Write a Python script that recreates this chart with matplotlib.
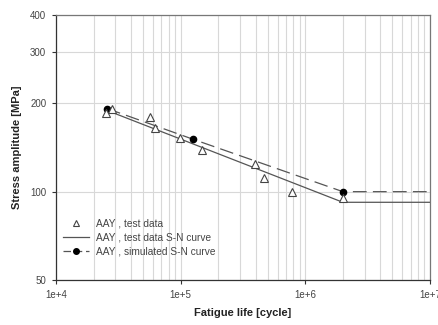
#!/usr/bin/env python3
"""S-N curve for AAY: test data vs. test and simulated S-N curves."""
import matplotlib

matplotlib.use("Agg")

import matplotlib.pyplot as plt
from matplotlib.ticker import FixedLocator, NullFormatter, LogLocator

plt.rcParams["font.family"] = ["Liberation Sans", "DejaVu Sans"]

# test data (cycles, MPa)
test_n = [25000, 28200, 56500, 62800, 98200, 148000, 396000, 467000, 777000, 2.0e6]
test_s = [185, 192, 180, 165, 152, 139, 124, 111, 99.8, 95]

# S-N curve fitted to test data
fit_n = [25000, 2.0e6, 1.0e7]
fit_s = [190, 92, 92]

# simulated S-N curve
sim_n = [25700, 125000, 2.0e6, 1.0e7]
sim_s = [192, 151, 100, 100]
sim_mark_n = sim_n[:3]
sim_mark_s = sim_s[:3]

y_ticks = [50, 100, 200, 300, 400]
x_ticks = [1e4, 1e5, 1e6, 1e7]
x_labels = ["1e+4", "1e+5", "1e+6", "1e+7"]

fig = plt.figure(figsize=(4.39, 3.25), dpi=100)
ax = fig.add_axes([0.1276, 0.1385, 0.8519, 0.8153])

grid_c = "#d8d8d8"
ax.plot(fit_n, fit_s, color="#555555", lw=0.9, zorder=3)
ax.plot(sim_n, sim_s, color="#555555", lw=0.9, dashes=(11, 5), zorder=3)
ax.plot(sim_mark_n, sim_mark_s, ls="none", marker="o", ms=4.5,
        color="black", zorder=4)
ax.plot(test_n, test_s, ls="none", marker="^", ms=5.5, mfc="white",
        mec="#444444", mew=0.8, zorder=5)

ax.set_xscale("log")
ax.set_yscale("log")
ax.set_xlim(1e4, 1e7)
ax.set_ylim(50, 400)

ax.xaxis.set_major_locator(FixedLocator(x_ticks))
ax.set_xticklabels(x_labels)
ax.xaxis.set_minor_locator(LogLocator(base=10, subs=range(2, 10)))
ax.xaxis.set_minor_formatter(NullFormatter())
ax.tick_params(axis="x", which="minor", length=0)

ax.yaxis.set_major_locator(FixedLocator(y_ticks))
ax.set_yticklabels([str(v) for v in y_ticks])
ax.yaxis.set_minor_locator(FixedLocator([]))
ax.yaxis.set_minor_formatter(NullFormatter())

ax.tick_params(which="major", labelsize=7, labelcolor="#444444",
               length=3, width=0.8, color="#333333", pad=4)

ax.grid(True, axis="x", which="both", color=grid_c, lw=0.8, zorder=0)
ax.grid(True, axis="y", which="major", color=grid_c, lw=0.8, zorder=0)

for side in ("left", "bottom"):
    ax.spines[side].set_color("#333333")
    ax.spines[side].set_linewidth(0.9)
for side in ("top", "right"):
    ax.spines[side].set_color("#777777")
    ax.spines[side].set_linewidth(0.9)

ax.set_xlabel("Fatigue life [cycle]", fontsize=8, fontweight="bold",
              color="#222222", labelpad=6)
ax.set_ylabel("Stress amplitude [MPa]", fontsize=8, fontweight="bold",
              color="#222222", labelpad=6)

h_test = plt.Line2D([], [], ls="none", marker="^", ms=5, mfc="white",
                    mec="#444444", mew=0.8)
h_fit = plt.Line2D([], [], color="#555555", lw=0.9)
h_sim = plt.Line2D([], [], color="#555555", lw=0.9, dashes=(6, 3),
                   marker="o", ms=4, mfc="black", mec="black")
leg = ax.legend([h_test, h_fit, h_sim],
                ["AAY , test data", "AAY , test data S-N curve",
                 "AAY , simulated S-N curve"],
                loc="lower left", bbox_to_anchor=(0.0, 0.06),
                frameon=False, fontsize=7.3, handlelength=2.6,
                handletextpad=0.6, labelspacing=0.4, borderaxespad=0.3)
for t in leg.get_texts():
    t.set_color("#444444")

fig.savefig("out.png", dpi=100)
